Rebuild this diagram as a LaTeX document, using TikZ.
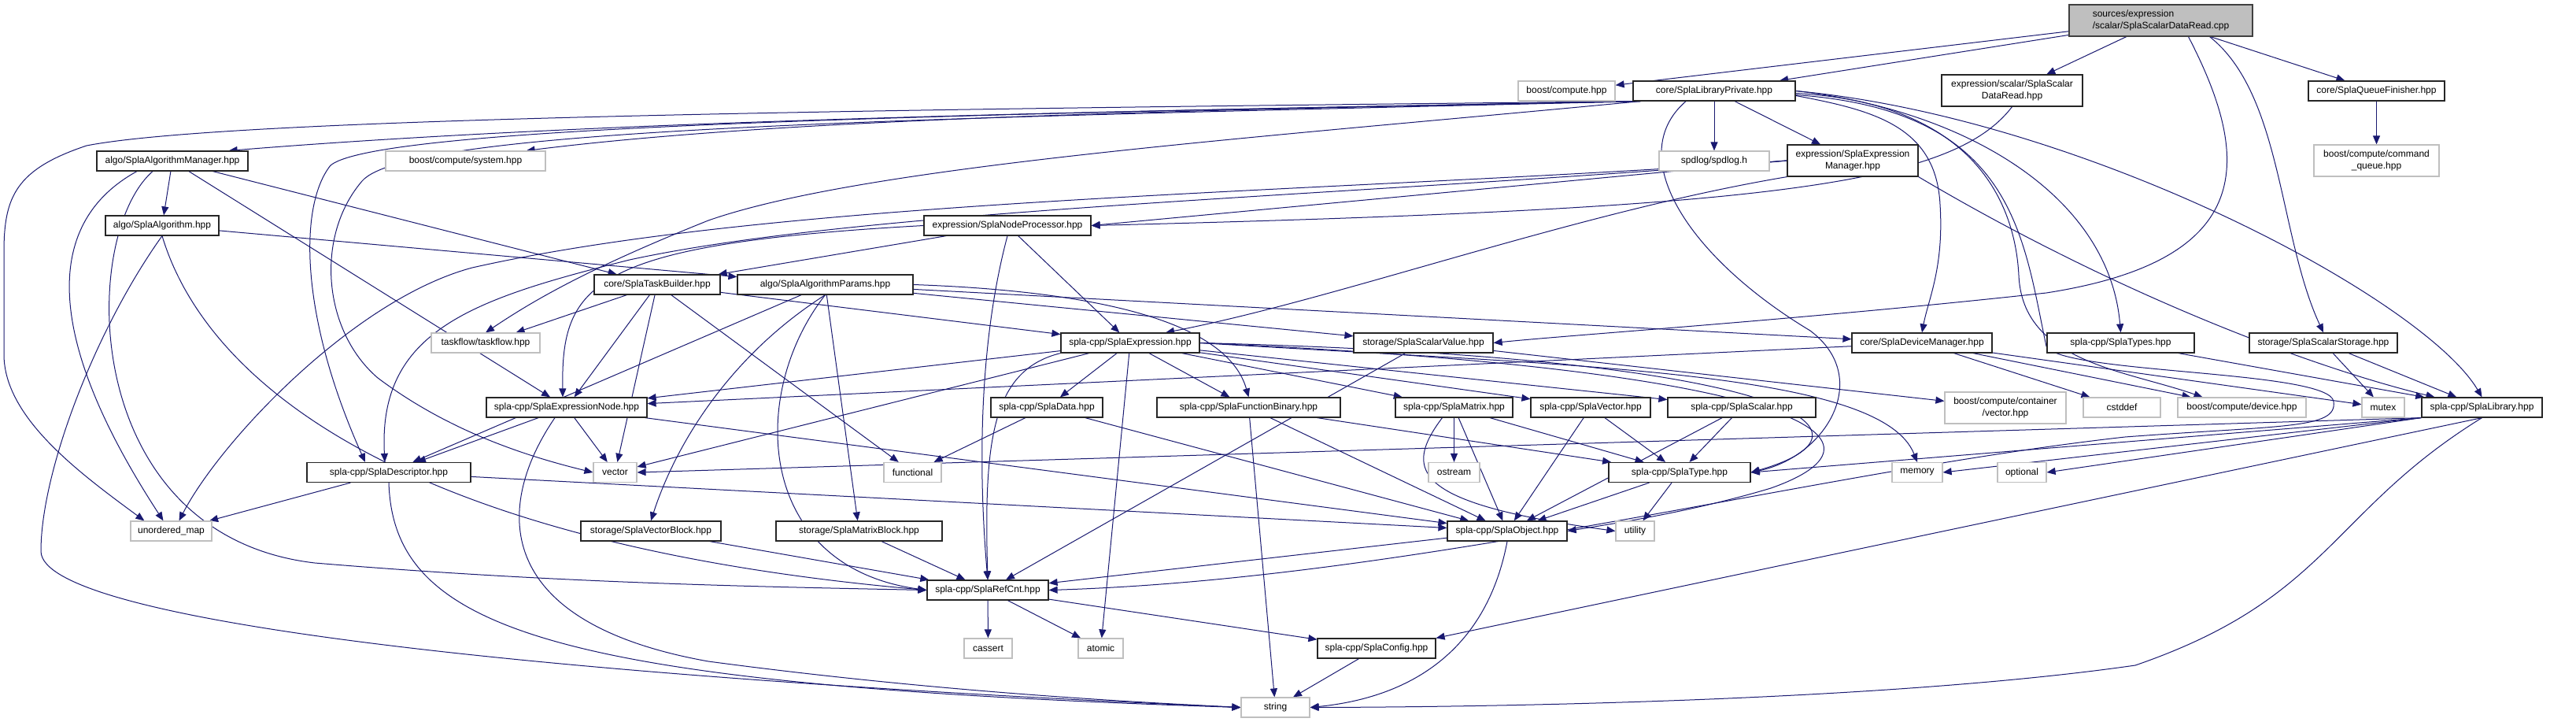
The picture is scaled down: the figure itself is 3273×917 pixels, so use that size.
\documentclass[tikz,border=0pt]{standalone}
\usepackage{fontspec}
\setmainfont{Liberation Sans}
\usetikzlibrary{arrows.meta,backgrounds}

\definecolor{edgeblue}{HTML}{191970}
\definecolor{extgray}{HTML}{BFBFBF}

\begin{document}
\begin{tikzpicture}[
    x=1pt, y=-1pt,
    font=\fontsize{12}{15}\selectfont,
    file/.style={draw=black!85, line width=1.2pt, fill=white, inner sep=0pt, minimum height=25pt, align=center},
    ext/.style={draw=extgray, line width=1.2pt, fill=white, inner sep=0pt, minimum height=25pt, align=center},
    root/.style={draw=black!75, line width=1.2pt, fill=extgray, inner sep=0pt, minimum height=40pt, align=left},
    line/.style={draw=edgeblue, line width=1pt, -{Triangle[length=11pt,width=9pt]}}
]
\useasboundingbox (0,0) rectangle (3273,917);

\node[root, minimum width=233pt] (src) at (2745.5,26) {sources/expression\\/scalar/SplaScalarDataRead.cpp};

\node[ext, minimum width=123pt] (boostcomp) at (1990.5,115.5) {boost/compute.hpp};
\node[file, minimum width=206pt] (libpriv) at (2178,115.5) {core/SplaLibraryPrivate.hpp};
\node[file, minimum width=179pt, minimum height=40pt] (scdrh) at (2556.5,115) {expression/scalar/SplaScalar\\DataRead.hpp};
\node[file, minimum width=173pt] (qfin) at (3019.5,115.5) {core/SplaQueueFinisher.hpp};

\node[file, minimum width=192pt] (algomgr) at (219,204.5) {algo/SplaAlgorithmManager.hpp};
\node[ext, minimum width=203pt] (system) at (591.5,204.5) {boost/compute/system.hpp};
\node[ext, minimum width=140pt] (spdlog) at (2178,204.5) {spdlog/spdlog.h};
\node[file, minimum width=166pt, minimum height=40pt] (exprmgr) at (2354,204) {expression/SplaExpression\\Manager.hpp};
\node[ext, minimum width=159pt, minimum height=40pt] (cmdq) at (3019.5,204) {boost/compute/command\\\_queue.hpp};

\node[file, minimum width=144pt] (algo) at (206,286.5) {algo/SplaAlgorithm.hpp};
\node[file, minimum width=212pt] (nodeproc) at (1280,286.5) {expression/SplaNodeProcessor.hpp};

\node[file, minimum width=160pt] (taskbuilder) at (835,361.5) {core/SplaTaskBuilder.hpp};
\node[file, minimum width=223pt] (params) at (1048.5,361.5) {algo/SplaAlgorithmParams.hpp};

\node[ext, minimum width=138pt] (taskflow) at (617,435.5) {taskflow/taskflow.hpp};
\node[file, minimum width=176pt] (expression) at (1436,435.5) {spla-cpp/SplaExpression.hpp};
\node[file, minimum width=177pt] (scval) at (1808.5,435.5) {storage/SplaScalarValue.hpp};
\node[file, minimum width=178pt] (devmgr) at (2442,435.5) {core/SplaDeviceManager.hpp};
\node[file, minimum width=187pt] (types) at (2694.5,435.5) {spla-cpp/SplaTypes.hpp};
\node[file, minimum width=188pt] (scstor) at (2952,435.5) {storage/SplaScalarStorage.hpp};

\node[file, minimum width=204pt] (exprnode) at (720,517.5) {spla-cpp/SplaExpressionNode.hpp};
\node[file, minimum width=142pt] (data) at (1330,517.5) {spla-cpp/SplaData.hpp};
\node[file, minimum width=233pt] (funcbin) at (1586.5,517.5) {spla-cpp/SplaFunctionBinary.hpp};
\node[file, minimum width=149pt] (matrix) at (1847.5,517.5) {spla-cpp/SplaMatrix.hpp};
\node[file, minimum width=152pt] (splavec) at (2021,517.5) {spla-cpp/SplaVector.hpp};
\node[file, minimum width=188pt] (scalar) at (2213,517.5) {spla-cpp/SplaScalar.hpp};
\node[ext, minimum width=154pt, minimum height=40pt] (contvec) at (2548,518) {boost/compute/container\\/vector.hpp};
\node[ext, minimum width=98pt] (cstddef) at (2696,517.5) {cstddef};
\node[ext, minimum width=163pt] (device) at (2848.5,517.5) {boost/compute/device.hpp};
\node[ext, minimum width=54pt] (mutex) at (3028,517.5) {mutex};
\node[file, minimum width=153pt] (library) at (3153.5,517.5) {spla-cpp/SplaLibrary.hpp};

\node[file, minimum width=208pt] (descriptor) at (494,600) {spla-cpp/SplaDescriptor.hpp};
\node[ext, minimum width=55pt] (vector) at (781.5,600) {vector};
\node[ext, minimum width=73pt] (functional) at (1159.5,600) {functional};
\node[ext, minimum width=65pt] (ostream) at (1847.5,600) {ostream};
\node[file, minimum width=180pt] (type) at (2134,600) {spla-cpp/SplaType.hpp};
\node[ext, minimum width=64pt] (memory) at (2436,600) {memory};
\node[ext, minimum width=62pt] (optional) at (2569,600) {optional};

\node[ext, minimum width=103pt] (umap) at (217.5,674.5) {unordered\_map};
\node[file, minimum width=178pt] (vecblock) at (827,674.5) {storage/SplaVectorBlock.hpp};
\node[file, minimum width=211pt] (matblock) at (1091.5,674.5) {storage/SplaMatrixBlock.hpp};
\node[file, minimum width=152pt] (object) at (1915,674.5) {spla-cpp/SplaObject.hpp};
\node[ext, minimum width=49pt] (utility) at (2077.5,674.5) {utility};

\node[file, minimum width=154pt] (refcnt) at (1255,749.5) {spla-cpp/SplaRefCnt.hpp};

\node[ext, minimum width=61pt] (cassert) at (1255.5,823.5) {cassert};
\node[ext, minimum width=57pt] (atomic) at (1398.5,823.5) {atomic};
\node[file, minimum width=150pt] (config) at (1749,823.5) {spla-cpp/SplaConfig.hpp};

\node[ext, minimum width=87pt] (string) at (1620.5,898.5) {string};

\begin{scope}[on background layer]
% source file
\draw[line] (src) -- (boostcomp);
\draw[line] (src) -- (libpriv);
\draw[line] (src) -- (scdrh);
\draw[line] ([xshift=35pt]src.south) .. controls (2860,200) and (2870,330) .. (2600,372) .. controls (2300,405) and (2000,425) .. (scval.east);
\draw[line] ([xshift=62pt]src.south) .. controls (2900,120) and (2895,300) .. (scstor.north);
\draw[line] (src) -- (qfin);
\draw[line] (qfin) -- (cmdq);
\draw[line] (scdrh.south) .. controls (2480,235) and (2250,265) .. (nodeproc.east);

% library private
\draw[line] ([xshift=10pt]libpriv.south west) .. controls (1200,138) and (300,148) .. (110,185) .. controls (20,215) and (5,250) .. (5,320) -- (5,450) .. controls (5,530) and (100,600) .. ([xshift=18pt]umap.north west);
\draw[line] ([xshift=10pt]libpriv.south west) .. controls (1500,140) and (800,150) .. ([xshift=-25pt]algomgr.north east);
\draw[line] ([xshift=10pt]libpriv.south west) .. controls (1500,140) and (1000,150) .. ([xshift=-25pt]system.north east);
\draw[line] ([xshift=10pt]libpriv.south west) .. controls (1200,145) and (480,160) .. (420,210) .. controls (380,260) and (380,400) .. ([xshift=-30pt]descriptor.north);
\draw[line] ([xshift=10pt]libpriv.south west) .. controls (1200,150) and (520,160) .. (460,230) .. controls (400,300) and (410,420) .. (480,480) .. controls (560,540) and (650,575) .. (vector.west);
\draw[line] ([xshift=10pt]libpriv.south west) .. controls (1600,175) and (1100,210) .. (900,280) .. controls (750,340) and (680,380) .. (taskflow.north);
\draw[line] (libpriv) -- (spdlog);
\draw[line] (libpriv) -- (exprmgr);
\draw[line] ([yshift=-6pt]libpriv.east) .. controls (2380,140) and (2460,160) .. (2465,260) .. controls (2470,340) and (2450,380) .. (devmgr.north);
\draw[line] (libpriv.east) .. controls (2500,140) and (2680,250) .. (types.north);
\draw[line] (libpriv.east) .. controls (2650,150) and (3080,380) .. (library.north);
\draw[line] ([yshift=-3pt]libpriv.east) .. controls (2500,130) and (2560,250) .. (2565,350) .. controls (2570,460) and (2700,470) .. ([xshift=-50pt]device.north);
\draw[line] ([yshift=-5pt]libpriv.east) .. controls (2560,140) and (2570,300) .. (2600,440) .. controls (2620,475) and (2960,470) .. (2965,510) .. controls (2970,545) and (2900,540) .. (2700,555) .. controls (2300,600) and (1800,735) .. (refcnt.east);
\draw[line] ([xshift=-36pt]libpriv.south) .. controls (2060,200) and (2150,330) .. (2300,420) .. controls (2380,480) and (2320,580) .. (type.east);

% algorithms
\draw[line] (algomgr) -- (algo);
\draw[line] ([xshift=-45pt]algomgr.south) .. controls (60,280) and (50,420) .. ([xshift=-10pt]umap.north);
\draw[line] ([xshift=-25pt]algomgr.south) .. controls (100,300) and (100,680) .. (400,715) .. controls (700,740) and (950,745) .. (refcnt.west);
\draw[line] (algomgr) -- (exprnode);
\draw[line] (algomgr) -- (taskbuilder);
\draw[line] (algo) -- (params);
\draw[line] (algo.south) .. controls (120,420) and (52,600) .. (52,700) .. controls (52,790) and (700,860) .. (string.west);
\draw[line] (algo.south) .. controls (260,480) and (500,690) .. (refcnt.west);

% expression manager and processor
\draw[line] (exprmgr.west) -- (nodeproc.east);
\draw[line] (exprmgr.west) .. controls (1700,245) and (1000,250) .. (600,340) .. controls (450,380) and (280,560) .. ([xshift=10pt]umap.north);
\draw[line] (exprmgr.west) .. controls (1700,250) and (1100,265) .. (800,330) .. controls (600,380) and (480,420) .. ([xshift=-5pt]descriptor.north);
\draw[line] (exprmgr.south west) .. controls (2000,270) and (1700,380) .. ([xshift=45pt]expression.north);
\draw[line] (exprmgr.south east) .. controls (2700,380) and (2950,470) .. ([xshift=-60pt]library.north);
\draw[line] (nodeproc.west) .. controls (750,310) and (713,360) .. ([xshift=-5pt]exprnode.north);
\draw[line] (nodeproc) -- (taskbuilder);
\draw[line] (nodeproc.south) .. controls (1240,450) and (1245,620) .. (refcnt.north);
\draw[line] (nodeproc) -- (expression);

% task builder and params
\draw[line] (taskbuilder) -- (taskflow);
\draw[line] (taskbuilder) -- (exprnode);
\draw[line] (taskbuilder) -- (vector);
\draw[line] (taskbuilder) -- (functional);
\draw[line] (taskbuilder) -- (expression);
\draw[line] (params) -- (descriptor);
\draw[line] (params.south) .. controls (930,450) and (860,560) .. (vecblock.north);
\draw[line] (params) -- (matblock);
\draw[line] (params.south) .. controls (950,500) and (960,720) .. (refcnt.west);
\draw[line] (params.east) .. controls (1400,370) and (1560,410) .. (funcbin.north);
\draw[line] (params) -- (devmgr);
\draw[line] (params) -- (scval);

% expression
\draw[line] (expression) -- (exprnode);
\draw[line] (expression) -- (vector);
\draw[line] (expression) -- (data);
\draw[line] (expression) -- (atomic);
\draw[line] (expression) -- (funcbin);
\draw[line] (expression) -- (matrix);
\draw[line] (expression) -- (splavec);
\draw[line] (expression) -- (scalar);
\draw[line] (expression.south west) .. controls (1260,470) and (1250,560) .. (refcnt.north);
\draw[line] (expression.east) .. controls (2000,465) and (2390,470) .. (memory.north);
\draw[line] (expression.east) .. controls (2300,470) and (2420,560) .. (2250,620) .. controls (2150,650) and (2050,665) .. (object.east);
\draw[line] (expression.east) .. controls (2300,455) and (2400,550) .. (type.east);

% storage and core
\draw[line] (scval) -- (refcnt);
\draw[line] (scval) -- (contvec);
\draw[line] (devmgr) -- (exprnode);
\draw[line] (devmgr) -- (cstddef);
\draw[line] (devmgr) -- (device);
\draw[line] (devmgr) -- (mutex);
\draw[line] (types) -- (library);
\draw[line] (scstor) -- (mutex);
\draw[line] (scstor) -- (library);

% public headers
\draw[line] (exprnode) -- (descriptor);
\draw[line] (exprnode) -- (vector);
\draw[line] ([xshift=-15pt]exprnode.south) .. controls (630,640) and (620,790) .. (900,840) .. controls (1200,880) and (1450,892) .. (string.west);
\draw[line] (exprnode) -- (object);
\draw[line] (descriptor) -- (umap);
\draw[line] (descriptor.south) .. controls (500,800) and (700,870) .. (string.west);
\draw[line] (descriptor) -- (object);
\draw[line] (data) -- (functional);
\draw[line] (data) -- (object);
\draw[line] (funcbin) -- (string);
\draw[line] (funcbin) -- (object);
\draw[line] (funcbin) -- (type);
\draw[line] (matrix) -- (ostream);
\draw[line] (matrix) -- (object);
\draw[line] (matrix) -- (type);
\draw[line] ([xshift=-15pt]matrix.south) .. controls (1780,600) and (1800,640) .. (utility.west);
\draw[line] (splavec) -- (object);
\draw[line] (splavec) -- (type);
\draw[line] (scalar) -- (object);
\draw[line] (scalar) -- (type);
\draw[line] (type) -- (object);
\draw[line] (type) -- (utility);
\draw[line] (vecblock) -- (refcnt);
\draw[line] (matblock) -- (refcnt);
\draw[line] (object) -- (refcnt);
\draw[line] (object.south) .. controls (1890,820) and (1800,885) .. (string.east);
\draw[line] (refcnt) -- (cassert);
\draw[line] (refcnt) -- (atomic);
\draw[line] (refcnt) -- (config);
\draw[line] (config) -- (string);
\draw[line] (library.south west) -- (vector.east);
\draw[line] (library.south west) -- (type.east);
\draw[line] (library.south west) -- (memory.east);
\draw[line] (library.south west) -- (optional.east);
\draw[line] (library.south) -- (config.north east);
\draw[line] (library.south) .. controls (2960,650) and (2960,760) .. (2713,845) .. controls (2400,890) and (1900,898) .. (string.east);
\end{scope}
\end{tikzpicture}
\end{document}
